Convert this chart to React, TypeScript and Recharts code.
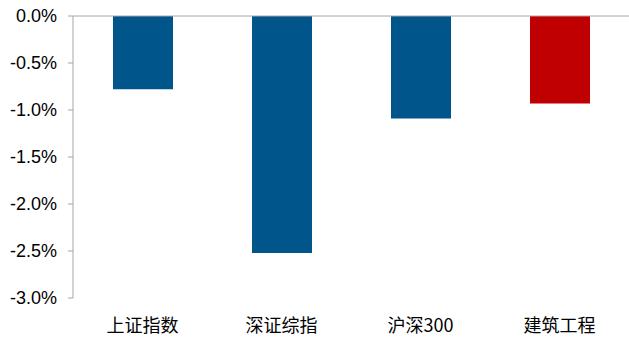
import React from "react";
import { BarChart, Bar, XAxis, YAxis, Cell, ReferenceLine } from "recharts";

const categories = ["上证指数", "深证综指", "沪深300", "建筑工程"];
const values = [-0.78, -2.52, -1.09, -0.93];
const barColors = ["#00558A", "#00558A", "#00558A", "#C00000"];
const yTicks = [0, -0.5, -1.0, -1.5, -2.0, -2.5, -3.0];

const data = categories.map((name, i) => ({ name, value: values[i] }));

export default function App() {
  return (
    <div style={{ position: "absolute", left: 0, top: 0, background: "#fff" }}>
      <BarChart
        width={629}
        height={340}
        data={data}
        margin={{ top: 16, right: 0, bottom: 0, left: 1 }}
      >
        <XAxis
          dataKey="name"
          axisLine={false}
          tickLine={false}
          height={42}
          tickMargin={15}
          interval={0}
          tick={{ fill: "#000", fontSize: 18, fontFamily: "'Noto Sans CJK SC', 'Liberation Sans', sans-serif" }}
        />
        <YAxis
          width={72}
          domain={[-3, 0]}
          ticks={yTicks}
          allowDataOverflow
          tickFormatter={(v: number) => `${v.toFixed(1)}%`}
          axisLine={{ stroke: "#A6A6A6" }}
          tickLine={{ stroke: "#A6A6A6" }}
          tickSize={5}
          tickMargin={11}
          tick={{ fill: "#000", fontSize: 18, fontFamily: "'Liberation Sans', Arial, sans-serif" }}
        />
        <ReferenceLine y={0} stroke="#A6A6A6" />
        <Bar dataKey="value" barSize={60} isAnimationActive={false}>
          {data.map((d, i) => (
            <Cell key={d.name} fill={barColors[i]} />
          ))}
        </Bar>
      </BarChart>
    </div>
  );
}
